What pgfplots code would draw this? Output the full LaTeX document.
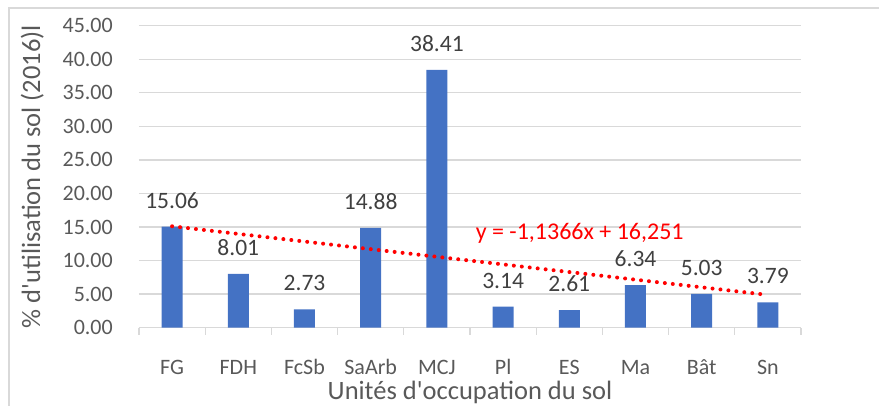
\documentclass[border=0pt]{standalone}
\usepackage{fontspec}
\setmainfont{Carlito}[Ligatures=TeXOff]
\usepackage{pgfplots}
\pgfplotsset{compat=1.18}
\definecolor{barblue}{RGB}{68,114,196}
\definecolor{gridgray}{RGB}{217,217,217}
\definecolor{txtgray}{RGB}{89,89,89}
\definecolor{lblgray}{RGB}{64,64,64}
\begin{document}
\begin{tikzpicture}
\path[use as bounding box] (-139bp,-78.3bp) rectangle (740bp,327.7bp);
\begin{axis}[
  scale only axis, width=662bp, height=302bp,
  at={(0,0)}, anchor=south west,
  xmin=-0.5, xmax=9.5, ymin=0, ymax=45,
  axis x line*=bottom, axis y line*=left,
  y axis line style={draw=none},
  x axis line style={draw=gridgray, line width=1.3bp, -},
  xtick={0,...,9},
  xticklabels={FG,FDH,FcSb,SaArb,MCJ,Pl,ES,Ma,Bât,Sn},
  major tick length=0pt,
  minor tick length=7bp,
  tick align=outside,
  minor xtick={-0.5,0.5,...,9.5},
  minor x tick style={draw=gridgray, line width=1.3bp},
  major x tick style={draw=none},
  ytick={0,5,...,45},
  ytick style={draw=none},
  ymajorgrids,
  grid style={draw=gridgray, line width=1.3bp},
  /pgf/number format/assume math mode=true,
  ticklabel style={font=\fontsize{22bp}{26bp}\selectfont, text=txtgray},
  yticklabel style={/pgf/number format/.cd, fixed, fixed zerofill, precision=2, /tikz/.cd, anchor=east, inner sep=0pt, xshift=-26bp},
  xticklabel style={anchor=base, inner sep=0pt, yshift=-47bp},
  xlabel={Unités d'occupation du sol},
  xlabel style={at={(rel axis cs:0.5,-0.2377)}, anchor=base, inner sep=0pt, font=\fontsize{26.5bp}{31bp}\selectfont, text=txtgray},
  ylabel={\% d'utilisation du sol (2016)l},
  ylabel style={at={(rel axis cs:-0.1495,0.5)}, anchor=base, inner sep=0pt, font=\fontsize{26.5bp}{31bp}\selectfont, text=txtgray},
  clip=false,
]
\addplot[ybar, bar width=21bp, fill=barblue, draw=none,
  nodes near coords,
  nodes near coords style={font=\fontsize{23.5bp}{28bp}\selectfont, text=lblgray, anchor=base, inner sep=0pt, yshift=18.5bp,
    /pgf/number format/.cd, fixed, fixed zerofill, precision=2, assume math mode=true}]
  coordinates {(0,15.06) (1,8.01) (2,2.73) (3,14.88) (4,38.41) (5,3.14) (6,2.61) (7,6.34) (8,5.03) (9,3.79)};
\addplot[color=red, line width=4bp, dash pattern=on 0bp off 8bp, line cap=round]
  coordinates {(0,15.1144) (9,4.885)};
\node[anchor=base, text=red, inner sep=0pt, font=\fontsize{24bp}{28bp}\selectfont] at (axis cs:6.157,13.2) {y = -1,1366x + 16,251};
\end{axis}
\draw[gridgray, line width=2bp] (-129.5bp,-80bp) -- (-129.5bp,320bp) -- (742bp,320bp);
\end{tikzpicture}
\end{document}
